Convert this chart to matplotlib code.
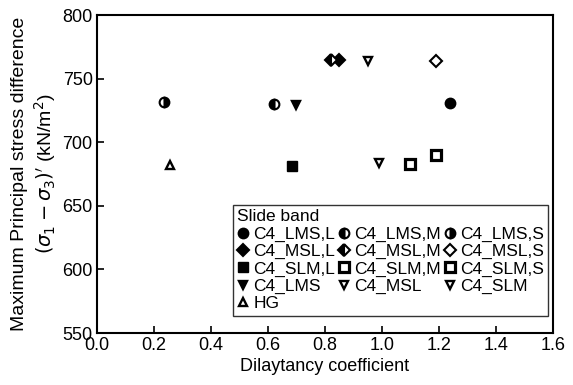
import matplotlib
matplotlib.use("Agg")
import matplotlib.pyplot as plt

plt.rcParams['font.family'] = ['Liberation Sans', 'DejaVu Sans']
plt.rcParams['mathtext.fontset'] = 'dejavusans'

# ---- data ----
lms_l = (1.24, 731)
lms_m = (0.62, 730)
lms_s = (0.235, 732)
msl_l = (0.85, 765)
msl_m = (0.82, 765)
msl_s = (1.19, 764)
slm_l = (0.685, 681)
slm_m = (1.10, 683)
slm_s = (1.19, 690)
c4_lms = (0.70, 729)
c4_msl = (0.95, 764)
c4_slm = (0.99, 684)
hg = (0.255, 682)

x_ticks = [0.0, 0.2, 0.4, 0.6, 0.8, 1.0, 1.2, 1.4, 1.6]
y_ticks = [550, 600, 650, 700, 750, 800]

fig = plt.figure(figsize=(5.73, 3.85), dpi=100)
ax = fig.add_axes([0.169, 0.135, 0.796, 0.826])

k = dict(color='black', markeredgecolor='black', linestyle='none')

def pt(xy, label, **style):
    kw = dict(k)
    kw.update(style)
    return ax.plot([xy[0]], [xy[1]], label=label, **kw)[0]

circ = dict(marker='o', markersize=7, markeredgewidth=1.5, markerfacecoloralt='white')
dia = dict(marker='D', markersize=6, markeredgewidth=1.5)
sq = dict(marker='s', markersize=6.5, markeredgewidth=2.3)
tri = dict(markersize=6, markeredgewidth=1.7)

h_lms_l = pt(lms_l, 'C4_LMS,L', **circ)
h_lms_m = pt(lms_m, 'C4_LMS,M', fillstyle='left', **circ)
h_lms_s = pt(lms_s, 'C4_LMS,S', fillstyle='right', **circ)
h_msl_l = pt(msl_l, 'C4_MSL,L', **dia)
h_msl_m = pt(msl_m, 'C4_MSL,M', fillstyle='left', markerfacecoloralt='white', **dia)
h_msl_s = pt(msl_s, 'C4_MSL,S', markerfacecolor='white', **dia)
h_slm_l = pt(slm_l, 'C4_SLM,L', marker='s', markersize=6.5)
h_slm_m = pt(slm_m, 'C4_SLM,M', markerfacecolor='white', **sq)
h_slm_s = pt(slm_s, 'C4_SLM,S', markerfacecolor='white', **sq)
h_c4_lms = pt(c4_lms, 'C4_LMS', marker='v', **tri)
h_c4_msl = pt(c4_msl, 'C4_MSL', marker='v', markerfacecolor='white', **tri)
h_c4_slm = pt(c4_slm, 'C4_SLM', marker='v', markerfacecolor='white', **tri)
h_hg = pt(hg, 'HG', marker='^', markerfacecolor='white', **tri)

ax.set_xlim(0, 1.6)
ax.set_ylim(550, 800)
ax.set_xticks(x_ticks)
ax.set_yticks(y_ticks)
ax.set_xticklabels([f"{t:.1f}" for t in x_ticks])
ax.tick_params(direction='in', length=5, width=1.2, labelsize=13, pad=3)
for s in ax.spines.values():
    s.set_linewidth(1.5)

ax.set_xlabel("Dilaytancy coefficient", fontsize=13, labelpad=3)
ax.set_ylabel("Maximum Principal stress difference\n"
              r"$(\sigma_1 - \sigma_3)'$ (kN/m$^2$)", fontsize=14, labelpad=3)

# column-major order so the rows read L / M / S
handles = [h_lms_l, h_msl_l, h_slm_l, h_c4_lms, h_hg,
           h_lms_m, h_msl_m, h_slm_m, h_c4_msl,
           h_lms_s, h_msl_s, h_slm_s, h_c4_slm]
leg = ax.legend(handles=handles, labels=[h.get_label() for h in handles],
                ncol=3, title="Slide band", loc='lower right',
                bbox_to_anchor=(0.99, 0.055), fontsize=12.5, title_fontsize=12.5,
                frameon=True, fancybox=False, edgecolor='black',
                handlelength=0.7, handletextpad=0.25, columnspacing=0.15,
                labelspacing=0.12, borderpad=0.25, borderaxespad=0.0,
                alignment='left')
leg.get_frame().set_linewidth(1.0)

fig.savefig("out.png", dpi=100)
